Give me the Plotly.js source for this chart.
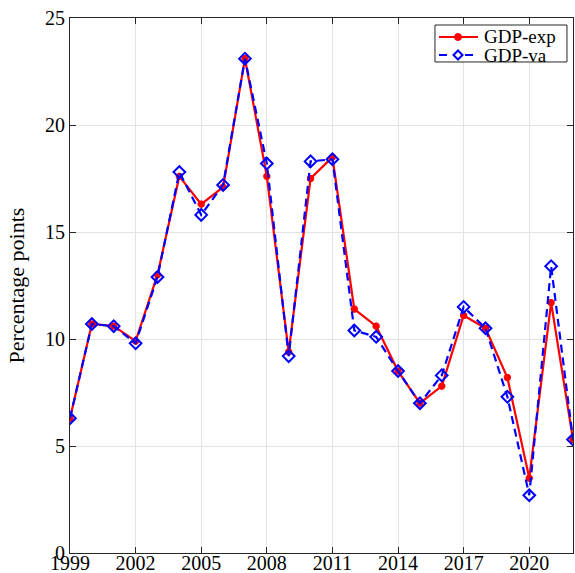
<!DOCTYPE html>
<html>
<head>
<meta charset="utf-8">
<script src="https://cdn.plot.ly/plotly-3.0.1.min.js"></script>
<style>html,body{margin:0;padding:0;background:#fff;}#chart{width:575px;height:573px;}</style>
</head>
<body>
<div id="chart"></div>
<script>
const years = [1999,2000,2001,2002,2003,2004,2005,2006,2007,2008,2009,2010,2011,2012,2013,2014,2015,2016,2017,2018,2019,2020,2021,2022];
const gdpExp = [6.3,10.7,10.6,9.9,13.0,17.6,16.3,17.1,23.1,17.6,9.4,17.5,18.5,11.4,10.6,8.5,7.0,7.8,11.1,10.5,8.2,3.5,11.7,5.3];
const gdpVa  = [6.3,10.7,10.6,9.8,12.9,17.8,15.8,17.2,23.1,18.2,9.2,18.3,18.4,10.4,10.1,8.5,7.0,8.3,11.5,10.5,7.3,2.7,13.4,5.3];
const xTicks = [1999,2002,2005,2008,2011,2014,2017,2020];
const yTicks = [0,5,10,15,20,25];
const seriesNames = ['GDP-exp','GDP-va'];
const seriesColors = ['#ff0000','#0000ff'];

const FONT = 'Liberation Serif, Times New Roman, serif';
const AX = '#262626';

const traces = [
  {x: years, y: gdpExp, name: seriesNames[0], type: 'scatter', mode: 'lines+markers', showlegend: false,
   line: {color: seriesColors[0], width: 2.2},
   marker: {symbol: 'asterisk-open', size: 6, color: seriesColors[0], line: {color: seriesColors[0], width: 2.5}}},
  {x: years, y: gdpVa, name: seriesNames[1], type: 'scatter', mode: 'lines+markers', showlegend: false,
   line: {color: seriesColors[1], width: 2.2, dash: '8px,5px'},
   marker: {symbol: 'diamond-open', size: 9, color: seriesColors[1], line: {color: seriesColors[1], width: 2}}}
];

// compact legend box (MATLAB style) drawn with layout shapes/annotations
const LG = {x0: 0.7256, x1: 0.988, y0: 0.9178, y1: 0.9869, rows: [0.9645, 0.9308],
            lx0: 0.7336, lx1: 0.8111, mx: 0.7714, tx: 0.819};
const shapes = [
  {type: 'rect', xref: 'paper', yref: 'paper', x0: LG.x0, x1: LG.x1, y0: LG.y0, y1: LG.y1,
   fillcolor: '#ffffff', line: {color: AX, width: 1}, layer: 'above'},
  {type: 'line', xref: 'paper', yref: 'paper', x0: LG.lx0, x1: LG.lx1, y0: LG.rows[0], y1: LG.rows[0],
   line: {color: seriesColors[0], width: 2.2}, layer: 'above'},
  {type: 'circle', xref: 'paper', yref: 'paper', xsizemode: 'pixel', ysizemode: 'pixel',
   xanchor: LG.mx, yanchor: LG.rows[0], x0: -3.5, x1: 3.5, y0: -3.5, y1: 3.5,
   fillcolor: seriesColors[0], line: {color: seriesColors[0], width: 1}, layer: 'above'},
  {type: 'line', xref: 'paper', yref: 'paper', x0: LG.lx0, x1: LG.lx1, y0: LG.rows[1], y1: LG.rows[1],
   line: {color: seriesColors[1], width: 2.2, dash: '8px,5px'}, layer: 'above'},
  {type: 'rect', xref: 'paper', yref: 'paper', x0: LG.mx - 0.012, x1: LG.mx + 0.012, y0: LG.rows[1] - 0.011, y1: LG.rows[1] + 0.011,
   fillcolor: '#ffffff', line: {width: 0}, layer: 'above'},
  {type: 'path', xref: 'paper', yref: 'paper', xsizemode: 'pixel', ysizemode: 'pixel',
   xanchor: LG.mx, yanchor: LG.rows[1], path: 'M 0 4.5 L 4.5 0 L 0 -4.5 L -4.5 0 Z',
   fillcolor: 'rgba(0,0,0,0)', line: {color: seriesColors[1], width: 2}, layer: 'above'}
];
const annotations = seriesNames.map((n, i) => ({
  text: n, xref: 'paper', yref: 'paper', x: LG.tx, y: LG.rows[i], xanchor: 'left', yanchor: 'middle',
  showarrow: false, font: {family: FONT, size: 19, color: '#000'}
}));

const layout = {
  width: 575, height: 573,
  margin: {l: 70, r: 2, t: 18, b: 20},
  paper_bgcolor: '#ffffff', plot_bgcolor: '#ffffff',
  font: {family: FONT, size: 20, color: '#000'},
  showlegend: false,
  shapes: shapes,
  annotations: annotations,
  xaxis: {range: [1999, 2022], tickmode: 'array', tickvals: xTicks, ticktext: xTicks.map(String),
          showgrid: true, gridcolor: '#e3e3e3', gridwidth: 1, zeroline: false,
          showline: true, linecolor: AX, linewidth: 1, mirror: 'ticks',
          ticks: 'inside', ticklen: 6, tickcolor: AX, tickwidth: 1,
          ticklabelstandoff: -8,
          tickfont: {family: FONT, size: 20, color: '#000'}},
  yaxis: {range: [0, 25], tickmode: 'array', tickvals: yTicks, ticktext: yTicks.map(String),
          showgrid: true, gridcolor: '#e3e3e3', gridwidth: 1, zeroline: false,
          showline: true, linecolor: AX, linewidth: 1, mirror: 'ticks',
          ticks: 'inside', ticklen: 6, tickcolor: AX, tickwidth: 1,
          tickfont: {family: FONT, size: 20, color: '#000'},
          title: {text: 'Percentage points', font: {family: FONT, size: 22, color: '#000'}, standoff: 14}}
};

Plotly.newPlot('chart', traces, layout, {displayModeBar: false, staticPlot: true});
</script>
</body>
</html>
